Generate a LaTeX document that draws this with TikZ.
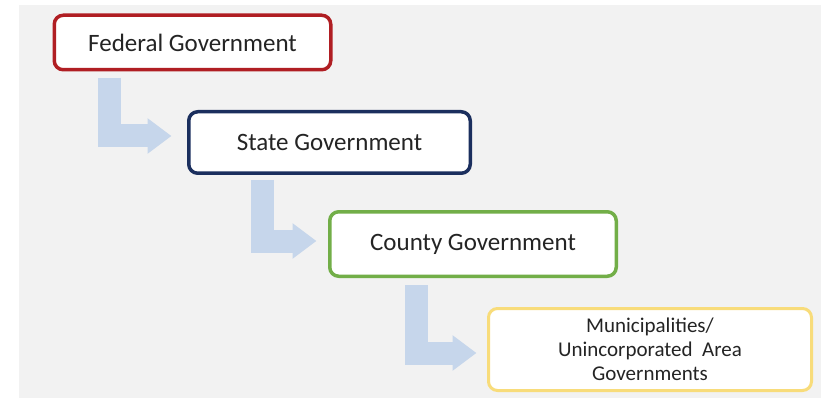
\documentclass[tikz,border=0pt]{standalone}
\usepackage{fontspec}
\setmainfont{Carlito}
\usepackage{tikz}
\usetikzlibrary{arrows.meta}
\definecolor{bggray}{HTML}{F2F2F2}
\definecolor{fedred}{HTML}{B01E23}
\definecolor{statenavy}{HTML}{1B2F5E}
\definecolor{countygreen}{HTML}{72AE48}
\definecolor{munyellow}{HTML}{F8DC7A}
\definecolor{flowblue}{HTML}{C6D6EB}
\definecolor{txtgray}{HTML}{242424}

\begin{document}
\begin{tikzpicture}[x=1pt, y=-1pt,
  govbox/.style={draw, rectangle, rounded corners=9pt, line width=3.5pt, fill=white,
    text=txtgray, align=center, inner sep=0pt, font=\fontsize{25}{30}\selectfont},
  flow/.style={draw=flowblue, line width=23pt, line cap=butt, line join=miter,
    -{Triangle[width=34pt, length=24pt]}}]
\useasboundingbox (0, 0) rectangle (821, 398);
\fill[white] (0, 0) rectangle (821, 398);
\fill[bggray] (19, 5) rectangle (821, 398);
\node[govbox, draw=fedred, minimum width=276.5pt, minimum height=54.5pt] (federal) at (192.5, 42.5) {Federal Government};
\node[govbox, draw=statenavy, minimum width=281.5pt, minimum height=61.5pt] (state) at (329.5, 142.5) {State Government};
\node[govbox, draw=countygreen, minimum width=286.5pt, minimum height=64.5pt] (county) at (473, 244) {County Government};
\node[govbox, draw=munyellow, line width=3pt, minimum width=323pt, minimum height=82pt,
  font=\fontsize{21}{24}\selectfont] (muni) at (650, 349.5) {Municipalities/\\Unincorporated~~Area\\Governments};
\coordinate (f_out) at (109.5, 78);
\coordinate (s_out) at (262.5, 180);
\coordinate (c_out) at (416, 285);
\draw[flow, shorten >=15.5pt] (f_out) |- ([yshift=6.5pt]state.west);
\draw[flow, shorten >=11.5pt] (s_out) |- ([yshift=3pt]county.west);
\draw[flow, shorten >=10.5pt] (c_out) |- ([yshift=-3.5pt]muni.west);
\end{tikzpicture}
\end{document}
